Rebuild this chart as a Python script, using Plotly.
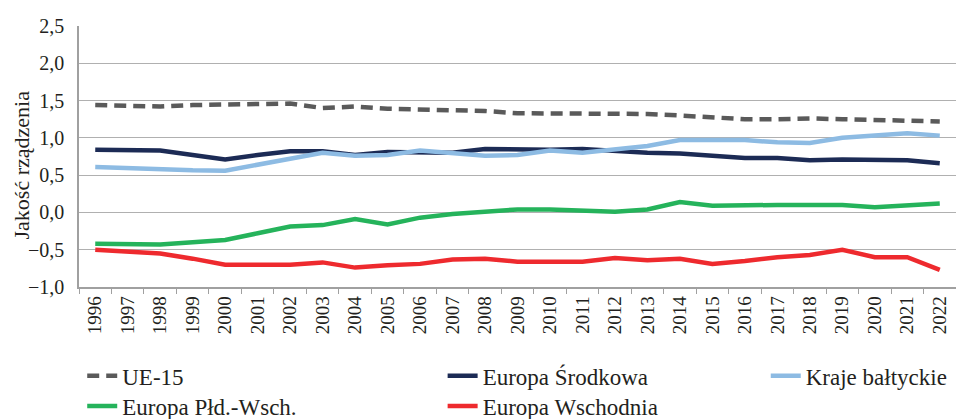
import plotly.graph_objs as go

years = [str(y) for y in range(1996, 2023)]

ue15 = [1.44, 1.43, 1.42, 1.44, 1.45, 1.46, 1.46, 1.40, 1.42, 1.39, 1.38, 1.38, 1.36, 1.33,
        1.33, 1.33, 1.32, 1.32, 1.30, 1.28, 1.25, 1.25, 1.26, 1.25, 1.24, 1.24, 1.22]
srodkowa = [0.84, 0.83, 0.83, 0.77, 0.71, 0.77, 0.82, 0.82, 0.77, 0.81, 0.81, 0.80, 0.85, 0.84,
            0.84, 0.85, 0.82, 0.80, 0.79, 0.76, 0.73, 0.73, 0.70, 0.71, 0.70, 0.70, 0.66]
baltyckie = [0.61, 0.59, 0.57, 0.565, 0.56, 0.64, 0.72, 0.80, 0.76, 0.77, 0.83, 0.79, 0.76, 0.77,
             0.83, 0.80, 0.85, 0.89, 0.97, 0.97, 0.97, 0.94, 0.93, 1.00, 1.03, 1.06, 1.03]
pldwsch = [-0.42, -0.42, -0.43, -0.40, -0.37, -0.28, -0.19, -0.17, -0.09, -0.16, -0.07, -0.02, 0.01, 0.04,
           0.04, 0.02, 0.01, 0.04, 0.14, 0.09, 0.10, 0.10, 0.10, 0.10, 0.07, 0.09, 0.12]
wschodnia = [-0.50, -0.52, -0.55, -0.62, -0.70, -0.70, -0.70, -0.67, -0.74, -0.71, -0.69, -0.63, -0.62, -0.66,
             -0.66, -0.66, -0.61, -0.64, -0.62, -0.69, -0.65, -0.60, -0.57, -0.50, -0.60, -0.60, -0.77]

font = 'Liberation Serif, DejaVu Serif, Times New Roman, serif'
txt = '#231f20'

series = [
    ('UE-15', ue15, '#5a5a5a', '12px,7px', 'legend'),
    ('Europa Środkowa', srodkowa, '#1c2b55', 'solid', 'legend2'),
    ('Kraje bałtyckie', baltyckie, '#8dbbe3', 'solid', 'legend3'),
    ('Europa Płd.-Wsch.', pldwsch, '#25b35b', 'solid', 'legend4'),
    ('Europa Wschodnia', wschodnia, '#ee2a2e', 'solid', 'legend5'),
]

data = [go.Scatter(x=years, y=vals, name=name, mode='lines', legend=leg,
                   line=dict(color=color, width=4.5, dash=dash))
        for name, vals, color, dash, leg in series]

# one legend box per entry, laid out like the three-column legend of the original
leg_pos = {'legend': (0.086, 0.103), 'legend2': (0.463, 0.103), 'legend3': (0.801, 0.103),
           'legend4': (0.086, 0.031), 'legend5': (0.463, 0.031)}
legends = {k: dict(x=x, y=y, xref='container', yref='container', xanchor='left', yanchor='middle',
                   bgcolor='rgba(0,0,0,0)', font=dict(family=font, size=23, color=txt))
           for k, (x, y) in leg_pos.items()}

# y axis title as an annotation (the native title gets misplaced with fixed margins)
ytitle = dict(text='Jakość rządzenia', xref='paper', yref='paper', x=-0.066, y=0.466,
              xanchor='center', yanchor='middle', textangle=-90, showarrow=False,
              font=dict(family=font, size=22, color=txt))

layout = go.Layout(
    width=956, height=419,
    margin=dict(l=79, r=0, t=26, b=132, autoexpand=False),
    paper_bgcolor='white', plot_bgcolor='white',
    separators=', ',
    font=dict(family=font, size=19, color=txt),
    xaxis=dict(type='category', range=[-0.5, 26.5], showgrid=False, showline=True,
               linecolor='#a0a0a0', linewidth=1.5, ticks='outside', tickson='boundaries',
               ticklen=5, tickcolor='#a0a0a0', tickangle=-90,
               tickfont=dict(family=font, size=19, color=txt)),
    yaxis=dict(range=[-1.0, 2.5], dtick=0.5, tickformat='.1f', showgrid=True,
               gridcolor='#b0b0b0', gridwidth=1.2, showline=True, linecolor='#a0a0a0',
               linewidth=1.5, zeroline=False, ticks='', ticklabelstandoff=9,
               tickfont=dict(family=font, size=20, color=txt)),
    annotations=[ytitle],
    showlegend=True,
    **legends,
)

fig = go.Figure(data=data, layout=layout)
fig.write_html("out.html", config={'displayModeBar': False},
               post_script="document.body.style.margin='0';")
